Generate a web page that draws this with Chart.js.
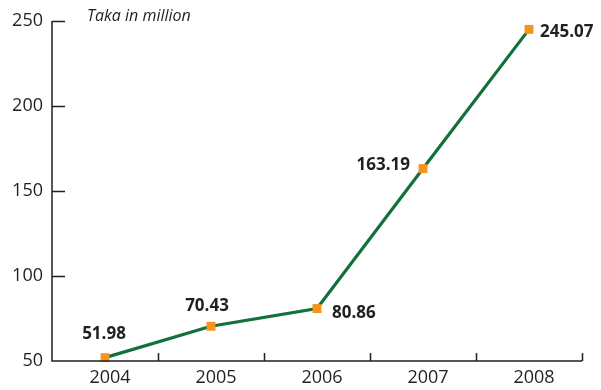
<!DOCTYPE html>
<html>
<head>
<meta charset="utf-8">
<script src="https://cdn.jsdelivr.net/npm/chart.js@4/dist/chart.umd.min.js"></script>
<style>
  html, body { margin: 0; padding: 0; background: #ffffff; }
  #wrap { width: 601px; height: 390px; }
</style>
</head>
<body>
<div id="wrap"><canvas id="chart" width="601" height="390"></canvas></div>
<script>
// Yearly values, Taka in million
const years = ['2004', '2005', '2006', '2007', '2008'];
const values = [51.98, 70.43, 80.86, 163.19, 245.07];
const yTicks = [50, 100, 150, 200, 250];
const unitLabel = 'Taka in million';

const INK = '#231f20';
const LINE_GREEN = '#12703a';
const MARKER_ORANGE = '#f7941d';

// Where each value label sits around its marker
const labelPlacement = [
  { align: 'center', dx: -1, dy: -23 },
  { align: 'center', dx: -4, dy: -20 },
  { align: 'left',   dx: 15, dy: 5 },
  { align: 'right',  dx: -13, dy: -3 },
  { align: 'left',   dx: 11, dy: 3 }
];

// Axis lines with inward tick marks, plus the unit caption
const axesPlugin = {
  id: 'axesPlugin',
  afterDatasetsDraw(chart) {
    const { ctx, chartArea, scales } = chart;
    const x = scales.x, y = scales.y;
    ctx.save();
    ctx.strokeStyle = INK;
    ctx.lineWidth = 1.5;
    ctx.beginPath();
    // y axis
    ctx.moveTo(chartArea.left, y.getPixelForValue(yTicks[yTicks.length - 1]));
    ctx.lineTo(chartArea.left, chartArea.bottom);
    // x axis
    ctx.lineTo(chartArea.right, chartArea.bottom);
    ctx.stroke();
    ctx.beginPath();
    yTicks.forEach(v => {
      const py = Math.round(y.getPixelForValue(v)) + 0.5;
      if (v === yTicks[0]) return;
      ctx.moveTo(chartArea.left, py);
      ctx.lineTo(chartArea.left + 13, py);
    });
    const band = x.getPixelForValue(1) - x.getPixelForValue(0);
    years.forEach((_, i) => {
      const px = Math.round(x.getPixelForValue(i) + band / 2) + 0.5;
      ctx.moveTo(px, chartArea.bottom);
      ctx.lineTo(px, chartArea.bottom - 8);
    });
    ctx.stroke();

    ctx.fillStyle = INK;
    ctx.font = 'italic 16px "Open Sans", sans-serif';
    ctx.textAlign = 'left';
    ctx.textBaseline = 'middle';
    ctx.fillText(unitLabel, 87, 16);
    ctx.restore();
  },
  afterDraw(chart) {
    const { ctx } = chart;
    const meta = chart.getDatasetMeta(0);
    ctx.save();
    ctx.fillStyle = INK;
    ctx.font = 'bold 17px "Open Sans", sans-serif';
    ctx.textBaseline = 'middle';
    meta.data.forEach((pt, i) => {
      const p = labelPlacement[i];
      ctx.textAlign = p.align;
      ctx.fillText(values[i].toFixed(2), pt.x + p.dx, pt.y + p.dy);
    });
    ctx.restore();
  }
};

new Chart(document.getElementById('chart'), {
  type: 'line',
  data: {
    labels: years,
    datasets: [{
      data: values,
      borderColor: LINE_GREEN,
      borderWidth: 3.2,
      tension: 0,
      pointStyle: 'rect',
      pointRadius: 6.3,
      pointBorderWidth: 0,
      pointBackgroundColor: MARKER_ORANGE,
      pointHoverRadius: 6.3,
      clip: false
    }]
  },
  options: {
    responsive: false,
    animation: false,
    events: [],
    layout: { padding: { top: 21, right: 19, left: 0, bottom: 0 } },
    plugins: {
      legend: { display: false },
      tooltip: { enabled: false }
    },
    scales: {
      x: {
        type: 'category',
        offset: true,
        grid: { display: false, drawTicks: false },
        border: { display: false },
        ticks: {
          color: INK,
          font: { family: '"Open Sans", sans-serif', size: 18 },
          padding: 6,
          labelOffset: 5,
          maxRotation: 0
        },
        afterFit(scale) { scale.height = 29; }
      },
      y: {
        min: 50,
        max: 250,
        afterBuildTicks(scale) { scale.ticks = yTicks.map(v => ({ value: v })); },
        grid: { display: false, drawTicks: false },
        border: { display: false },
        ticks: {
          color: INK,
          font: { family: '"Open Sans", sans-serif', size: 18 },
          padding: 9
        },
        afterFit(scale) { scale.width = 52; }
      }
    }
  },
  plugins: [axesPlugin]
});
</script>
</body>
</html>
